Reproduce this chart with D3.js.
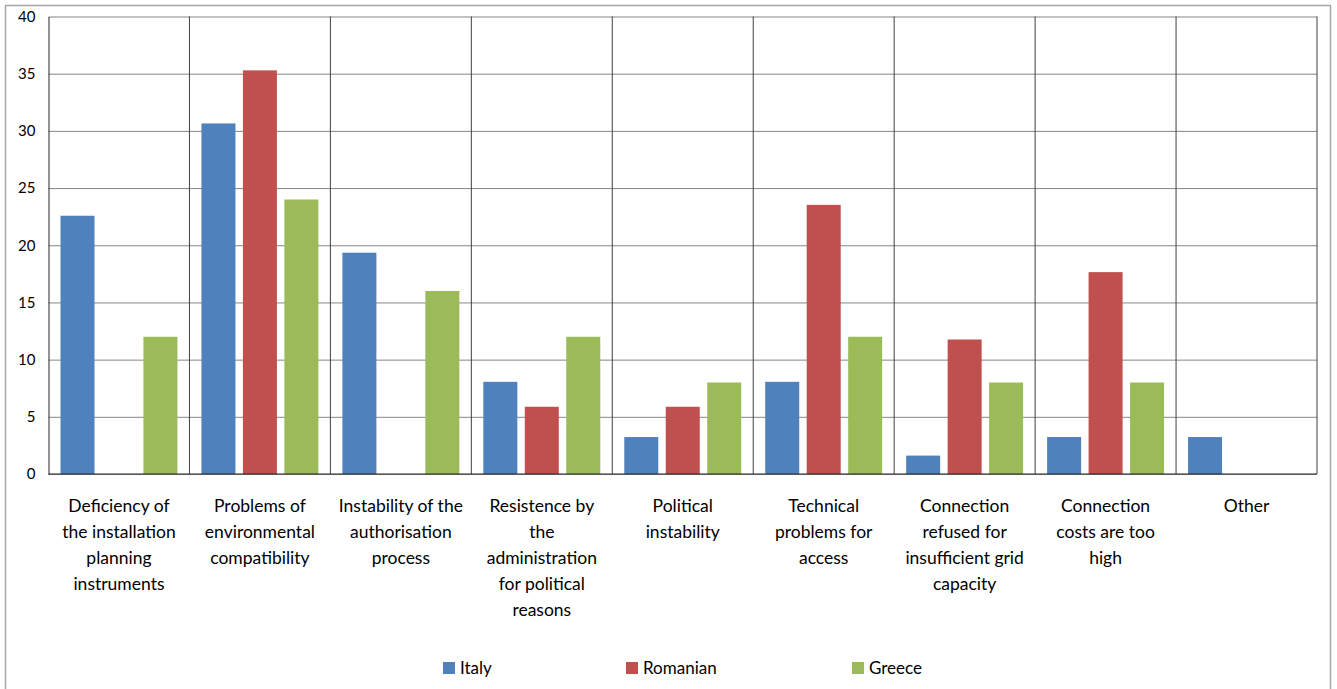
<!DOCTYPE html>
<html><head><meta charset="utf-8">
<script src="https://cdn.jsdelivr.net/npm/d3@7"></script>
<style>body{margin:0;background:#fff;} svg{display:block;}</style>
</head><body><svg id="c" width="1337" height="689"></svg>
<script>
const categories = [
  "Deficiency of|the installation|planning|instruments",
  "Problems of|environmental|compatibility",
  "Instability of the|authorisation|process",
  "Resistence by|the|administration|for political|reasons",
  "Political|instability",
  "Technical|problems for|access",
  "Connection|refused for|insufficient grid|capacity",
  "Connection|costs are too|high",
  "Other"
];
const seriesNames = ["Italy", "Romanian", "Greece"];
const italy    = [22.58, 30.65, 19.35, 8.06, 3.23, 8.06, 1.61, 3.23, 3.23];
const romanian = [0, 35.29, 0, 5.88, 5.88, 23.53, 11.76, 17.65, 0];
const greece   = [12, 24, 16, 12, 8, 12, 8, 8, 0];
const yTicks = [0, 5, 10, 15, 20, 25, 30, 35, 40];
const colors = ["#4f81bd", "#c0504d", "#9bbb59"];

const series = [italy, romanian, greece];
const svg = d3.select("#c");
const font = "Lato, 'Open Sans', sans-serif";

// outer border
svg.append("rect").attr("x", 5.5).attr("y", 5.5).attr("width", 1325).attr("height", 700)
  .attr("fill", "none").attr("stroke", "#a6a6a6").attr("stroke-width", 1.5);

const L = 48.5, R = 1317, T = 16.5, B = 474;
const x = d3.scaleBand().domain(d3.range(categories.length)).range([L, R]).paddingInner(0).paddingOuter(0);
const y = d3.scaleLinear().domain([0, 40]).range([B, T]);
const xs = d3.scaleBand().domain(d3.range(3)).range([12, x.bandwidth() - 12]).paddingInner(0.18);

// gridlines
const grid = svg.append("g").attr("transform", `translate(${L},0)`)
  .call(d3.axisLeft(y).tickValues(yTicks).tickSize(-(R - L)).tickFormat(""));
grid.select(".domain").remove();
grid.selectAll("line").attr("stroke", "#868686").attr("stroke-width", 1);

// category separators
svg.append("g").selectAll("line").data(d3.range(1, categories.length + 1)).join("line")
  .attr("x1", d => x(d) === undefined ? R : x(d)).attr("x2", d => x(d) === undefined ? R : x(d))
  .attr("y1", T).attr("y2", B).attr("stroke", "#404040").attr("stroke-width", 1);

// bars
series.forEach((s, si) => {
  svg.append("g").selectAll("rect").data(s).join("rect")
    .attr("x", (d, i) => x(i) + xs(si))
    .attr("width", xs.bandwidth())
    .attr("y", d => y(d))
    .attr("height", d => B - y(d))
    .attr("fill", colors[si]);
});

// y axis
const ya = svg.append("g").attr("transform", `translate(${L},0)`)
  .call(d3.axisLeft(y).tickValues(yTicks).tickSize(0).tickPadding(13));
ya.select(".domain").attr("stroke", "#262626");
ya.selectAll("text").attr("font-family", font).attr("font-size", 15).attr("fill", "#000");

// x axis
svg.append("line").attr("x1", L).attr("x2", R).attr("y1", B).attr("y2", B).attr("stroke", "#262626");
const xl = svg.append("g").selectAll("text").data(categories).join("text")
  .attr("x", (d, i) => x(i) + x.bandwidth() / 2)
  .attr("y", 512)
  .attr("text-anchor", "middle").attr("font-family", font).attr("font-size", 17.5).attr("fill", "#000");
xl.each(function(d) {
  const t = d3.select(this);
  d.split("|").forEach((line, k) => {
    t.append("tspan").attr("x", t.attr("x")).attr("dy", k === 0 ? 0 : 26).text(line);
  });
});

// legend
const legX = [443, 626, 852];
const lg = svg.append("g").selectAll("g").data(seriesNames).join("g")
  .attr("transform", (d, i) => `translate(${legX[i]},662)`);
lg.append("rect").attr("width", 12).attr("height", 12).attr("fill", (d, i) => colors[i]);
lg.append("text").attr("x", 17).attr("y", 12).attr("font-family", font).attr("font-size", 17)
  .attr("fill", "#000").text(d => d);
</script></body></html>
